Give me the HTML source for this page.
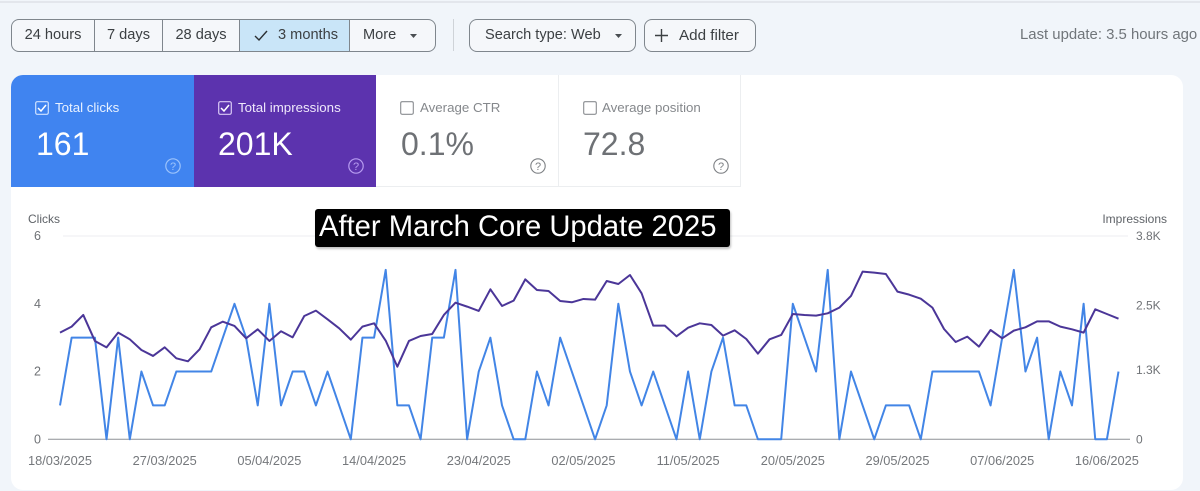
<!DOCTYPE html>
<html lang="en">
<head>
<meta charset="utf-8">
<title>Search performance chart</title>
<style>
html,body{margin:0;padding:0;}
body{width:1200px;height:491px;overflow:hidden;background:#f1f5fa;font-family:"Liberation Sans",sans-serif;position:relative;color:#3c4043;}
.abs{position:absolute;white-space:nowrap;}
#top-line{left:0;top:1px;width:1200px;height:2px;background:#e3e6ec;}
.btn-group{left:11px;top:19px;width:423px;height:31px;border:1px solid #7f868d;border-radius:8px;display:block;background:#f5f7fa;overflow:hidden;}
.seg{position:absolute;top:0;height:31px;line-height:31px;font-size:14.6px;color:#3c4043;text-align:center;border-right:1px solid #7f868d;box-sizing:border-box;}
.outline{top:19px;height:31px;line-height:31px;border:1px solid #7f868d;border-radius:8px;font-size:14.6px;background:#f5f7fa;color:#3c4043;}
.card{top:75px;height:112px;width:183px;box-sizing:border-box;}
.card-label{position:absolute;top:25px;font-size:13.3px;line-height:15px;white-space:nowrap;}
.card-value{position:absolute;top:50px;left:25px;font-size:32px;line-height:38px;white-space:nowrap;}
.cb{position:absolute;left:24px;top:26px;}
.help{position:absolute;top:83px;left:154px;}
</style>
</head>
<body>
<div class="abs" id="top-line"></div>

<div class="abs btn-group">
  <div class="seg" style="left:0;width:83px">24 hours</div>
  <div class="seg" style="left:83px;width:68px">7 days</div>
  <div class="seg" style="left:151px;width:77px">28 days</div>
  <div class="seg" style="left:228px;width:110px;background:#c9e5f8;text-align:left;padding-left:38px">3 months
    <svg style="position:absolute;left:14px;top:9px" width="14" height="13" viewBox="0 0 14 13"><path d="M1 7l4 4 8-9" fill="none" stroke="#2b2f33" stroke-width="1.4"/></svg>
  </div>
  <div class="seg" style="left:338px;width:85px;border-right:0;text-align:left;padding-left:13px">More
    <svg style="position:absolute;left:60px;top:14px" width="7" height="4" viewBox="0 0 7 4"><path d="M0 0h7L3.500 4z" fill="#4a4e52"/></svg>
  </div>
</div>
<div class="abs" style="left:453px;top:19px;width:1px;height:32px;background:#cfd3d8"></div>
<div class="abs outline" style="left:469px;width:165px"><span style="position:absolute;left:15px">Search type: Web</span>
  <svg style="position:absolute;left:145px;top:14px" width="7" height="4" viewBox="0 0 7 4"><path d="M0 0h7L3.500 4z" fill="#4a4e52"/></svg>
</div>
<div class="abs outline" style="left:644px;width:110px;font-size:15.2px">
  <svg style="position:absolute;left:10px;top:9px" width="13" height="13" viewBox="0 0 13 13"><path d="M6.500 0v13M0 6.500h13" stroke="#3c4043" stroke-width="1.4" fill="none"/></svg>
  <span style="position:absolute;left:34px">Add filter</span>
</div>
<div class="abs" style="left:1020px;top:27px;font-size:14.9px;line-height:16px;color:#70757a">Last update: 3.5 hours ago</div>

<div class="abs" style="left:11px;top:75px;width:1172px;height:415px;background:#fff;border-radius:12px"></div>

<div class="abs card" style="left:11px;background:#4084f0;border-top-left-radius:12px;color:#fff">
  <svg class="cb" width="14" height="14" viewBox="0 0 14 14"><rect x=".7" y=".7" width="12.600" height="12.600" rx="1.500" fill="none" stroke="#cfe2ff" stroke-width="1.200"/><path d="M3 7l3 3 5-6" fill="none" stroke="#fff" stroke-width="1.500"/></svg>
  <div class="card-label" style="left:44px;color:#e8f1ff">Total clicks</div>
  <div class="card-value">161</div>
  <svg class="help" width="16" height="16" viewBox="0 0 16 16"><circle cx="8" cy="8" r="7.200" fill="none" stroke="#9cc3fb" stroke-width="1.200"/><text x="8" y="12" font-size="11" text-anchor="middle" fill="#9cc3fb" font-family="Liberation Sans, sans-serif">?</text></svg>
</div>
<div class="abs card" style="left:194px;width:182px;background:#5c33ae;color:#fff">
  <svg class="cb" width="14" height="14" viewBox="0 0 14 14"><rect x=".7" y=".7" width="12.600" height="12.600" rx="1.500" fill="none" stroke="#d9c9f5" stroke-width="1.200"/><path d="M3 7l3 3 5-6" fill="none" stroke="#fff" stroke-width="1.500"/></svg>
  <div class="card-label" style="left:44px;color:#efe8fb">Total impressions</div>
  <div class="card-value" style="left:24px">201K</div>
  <svg class="help" width="16" height="16" viewBox="0 0 16 16"><circle cx="8" cy="8" r="7.200" fill="none" stroke="#b79cf0" stroke-width="1.200"/><text x="8" y="12" font-size="11" text-anchor="middle" fill="#b79cf0" font-family="Liberation Sans, sans-serif">?</text></svg>
</div>
<div class="abs card" style="left:376px;width:183px;border-right:1px solid #eceef0;border-bottom:1px solid #eceef0;color:#6e7175">
  <svg class="cb" width="14" height="14" viewBox="0 0 14 14"><rect x=".7" y=".7" width="12.600" height="12.600" rx="1.500" fill="none" stroke="#8a8d91" stroke-width="1.100"/></svg>
  <div class="card-label" style="left:44px;color:#85888c">Average CTR</div>
  <div class="card-value">0.1%</div>
  <svg class="help" width="16" height="16" viewBox="0 0 16 16"><circle cx="8" cy="8" r="7.200" fill="none" stroke="#7d8084" stroke-width="1.100"/><text x="8" y="12" font-size="11" text-anchor="middle" fill="#7d8084" font-family="Liberation Sans, sans-serif">?</text></svg>
</div>
<div class="abs card" style="left:559px;width:182px;border-right:1px solid #eceef0;border-bottom:1px solid #eceef0;color:#6e7175">
  <svg class="cb" width="14" height="14" viewBox="0 0 14 14"><rect x=".7" y=".7" width="12.600" height="12.600" rx="1.500" fill="none" stroke="#8a8d91" stroke-width="1.100"/></svg>
  <div class="card-label" style="left:43px;color:#85888c">Average position</div>
  <div class="card-value" style="left:24px">72.8</div>
  <svg class="help" width="16" height="16" viewBox="0 0 16 16"><circle cx="8" cy="8" r="7.200" fill="none" stroke="#7d8084" stroke-width="1.100"/><text x="8" y="12" font-size="11" text-anchor="middle" fill="#7d8084" font-family="Liberation Sans, sans-serif">?</text></svg>
</div>

<svg id="chart" class="abs" style="left:0;top:0" width="1200" height="491" viewBox="0 0 1200 491"></svg>

<div class="abs" style="left:315px;top:209px;width:415px;height:38px;background:#000;border-radius:3px;box-shadow:1px 2px 2px rgba(0,0,0,.25);color:#fff;font-size:29.2px;line-height:37px;padding-left:4px;box-sizing:border-box">After March Core Update 2025</div>

<script>
var dateLabels = ["18/03/2025","27/03/2025","05/04/2025","14/04/2025","23/04/2025","02/05/2025","11/05/2025","20/05/2025","29/05/2025","07/06/2025","16/06/2025"];
var clicksTicks = [0,2,4,6];
var impressionTicks = [0,1300,2500,3800];
var impressionTickLabels = ["0","1.3K","2.5K","3.8K"];
var clicksValues = [1,3,3,3,0,3,0,2,1,1,2,2,2,2,3,4,3,1,4,1,2,2,1,2,1,0,3,3,5,1,1,0,3,3,5,0,2,3,1,0,0,2,1,3,2,1,0,1,4,2,1,2,1,0,2,0,2,3,1,1,0,0,0,4,3,2,5,0,2,1,0,1,1,1,0,2,2,2,2,2,1,3,5,2,3,0,2,1,4,0,0,2];
var impressionValues = [1994,2106,2324,1838,1719,1994,1869,1670,1558,1719,1514,1458,1682,2093,2199,2118,1888,2056,1838,2019,1906,2305,2405,2243,2075,1863,2106,2168,1844,1358,1838,1931,1969,2324,2554,2480,2399,2804,2492,2592,2990,2791,2772,2585,2561,2623,2610,2959,2903,3071,2729,2124,2124,1925,2087,2168,2137,1938,2037,1875,1601,1869,1950,2342,2324,2311,2355,2461,2679,3134,3115,3090,2760,2704,2629,2461,2062,1819,1919,1732,2043,1888,2031,2093,2205,2205,2106,2056,1994,2430,2342,2255];

var NS = 'http://www.w3.org/2000/svg';
var svg = document.getElementById('chart');
var plotLeft = 60, stepX = 11.632, plotTop = 236, plotBottom = 439.3;
var clicksMax = 6, impressionsMax = 3800, labelEvery = 9;

function xAt(i){ return plotLeft + i * stepX; }
function yClicks(v){ return plotBottom - (v / clicksMax) * (plotBottom - plotTop); }
function yImpressions(v){ return plotBottom - (v / impressionsMax) * (plotBottom - plotTop); }
function make(tag){ return document.createElementNS(NS, tag); }
function put(el, props){ for (var k in props) el.setAttribute(k, props[k]); svg.appendChild(el); return el; }
function label(el, str, x, y, anchor, size, fill){
  put(el, {x:x, y:y, 'text-anchor':anchor, 'font-size':size, fill:fill, 'font-family':'"Liberation Sans", sans-serif'});
  el.textContent = str;
}

var gridTop = make('line');


put(gridTop, {x1:63, x2:1128, y1:yClicks(clicksMax), y2:yClicks(clicksMax), stroke:'#eceef0', 'stroke-width':1});

var baseline = make('line');


put(baseline, {x1:48, x2:1130, y1:yClicks(0), y2:yClicks(0), stroke:'#8d9196', 'stroke-width':1});

var leftTitle = make('text');


label(leftTitle, 'Clicks', 28, 223, 'start', 12, '#5f6368');

var rightTitle = make('text');


label(rightTitle, 'Impressions', 1167, 223, 'end', 12, '#5f6368');

clicksTicks.forEach(function(v){
  var t = make('text');
  
  
  label(t, String(v), 41, yClicks(v) + 4, 'end', 12.5, '#6f7276');
});

impressionTicks.forEach(function(v, i){
  var t = make('text');
  
  
  label(t, impressionTickLabels[i], 1136, yImpressions(v) + 4, 'start', 12, '#6f7276');
});

dateLabels.forEach(function(d, i){
  var t = make('text');
  
  
  label(t, d, xAt(i * labelEvery), 465, 'middle', 12.8, '#75787c');
});

function pathFrom(values, yFn){
  return values.map(function(v, i){ return (i ? 'L' : 'M') + xAt(i).toFixed(2) + ' ' + yFn(v).toFixed(2); }).join(' ');
}

var clicksLine = make('path');


put(clicksLine, {d:pathFrom(clicksValues, yClicks), fill:'none', stroke:'#4285e6', 'stroke-width':2, 'stroke-linejoin':'round'});

var impressionsLine = make('path');


put(impressionsLine, {d:pathFrom(impressionValues, yImpressions), fill:'none', stroke:'#4b3698', 'stroke-width':2, 'stroke-linejoin':'round'});
</script>
</body>
</html>
